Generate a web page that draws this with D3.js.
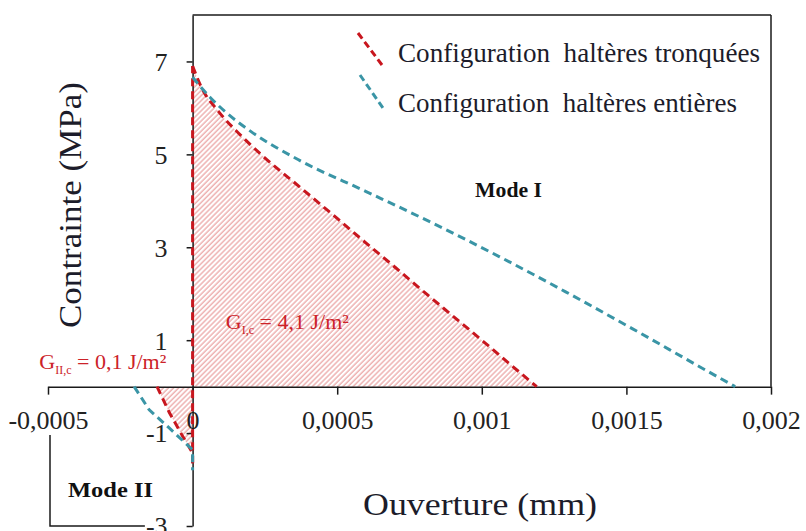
<!DOCTYPE html>
<html><head><meta charset="utf-8">
<script src="https://cdn.jsdelivr.net/npm/d3@7/dist/d3.min.js"></script>
<style>
html,body{margin:0;padding:0;background:#fff;}
svg{display:block;}
text{font-family:"Liberation Serif","Times New Roman",serif;}
</style></head>
<body>
<svg id="chart" width="806" height="531"></svg>
<script>
// ---- data ----
const xTickValues = [-0.0005, 0, 0.0005, 0.001, 0.0015, 0.002];
const xTickLabels = ["-0,0005", "0", "0,0005", "0,001", "0,0015", "0,002"];
const yTickValues = [-3, -1, 1, 3, 5, 7];
const yTickLabels = ["-3", "-1", "1", "3", "5", "7"];
const seriesNames = ["Configuration  haltères tronquées", "Configuration  haltères entières"];
const seriesColors = ["#c8161e", "#3a95a6"];
// [ouverture (mm), contrainte (MPa)]
const tronqueesModeII = [[-0.000123, 0], [-0.000081, -0.55], [-0.000036, -1.05], [0, -1.43], [0, -1.65]];
const tronqueesVertical = [[0, -1.65], [0, 6.9]];
const tronqueesModeI = [[0, 6.9], [0.00003, 6.45], [0.00009, 5.92], [0.00016, 5.45], [0.00024, 4.98],
  [0.00037, 4.3], [0.0005, 3.62], [0.0006, 3.09], [0.0007, 2.57], [0.0008, 2.04], [0.0009, 1.52],
  [0.001, 1.0], [0.0011, 0.47], [0.00119, 0]];
const entieresModeII = [[-0.000202, 0], [-0.00015, -0.5], [-0.000081, -0.89], [0, -1.36], [0, -1.8]];
const entieresModeI = [[0, 6.66], [0.00006, 6.23], [0.00012, 5.88], [0.0002, 5.5], [0.00037, 4.87],
  [0.0006, 4.2], [0.00083, 3.52], [0.00106, 2.8], [0.00129, 2.04], [0.00152, 1.25], [0.00175, 0.44], [0.001876, 0]];
const annotGIc = {pre: "G", sub: "I,c", post: " = 4,1 J/m²", x: 0.000115, y: 1.25};
const annotGIIc = {pre: "G", sub: "II,c", post: " = 0,1 J/m²", x: -0.00053, y: 0.38};

// ---- scales ----
const svg = d3.select("#chart");
const x = d3.scaleLinear().domain([-0.0005, 0.002]).range([48, 771]);
const y = d3.scaleLinear().domain([-3, 8]).range([526, 15]);

// ---- hatch pattern ----
const defs = svg.append("defs");
const pat = defs.append("pattern").attr("id", "hatch").attr("patternUnits", "userSpaceOnUse")
  .attr("width", 3.6).attr("height", 10).attr("patternTransform", "rotate(45)");
pat.append("line").attr("x1", 1).attr("x2", 1).attr("y1", 0).attr("y2", 10)
  .attr("stroke", "#e58a8a").attr("stroke-width", 1);

const area = d3.area().x(d => x(d[0])).y0(y(0)).y1(d => y(d[1])).curve(d3.curveMonotoneX);
svg.append("path").datum(tronqueesModeI).attr("d", area).attr("fill", "url(#hatch)");
svg.append("path").datum(tronqueesModeII.slice(0, 4)).attr("d", area).attr("fill", "url(#hatch)");

// ---- frame ----
const ax = "#1a1a1a";
const frame = svg.append("g").attr("stroke", ax).attr("stroke-width", 1.5).attr("fill", "none");
frame.append("line").attr("x1", x(0)).attr("x2", x(0.002)).attr("y1", y(8)).attr("y2", y(8));
frame.append("line").attr("x1", x(0.002)).attr("x2", x(0.002)).attr("y1", y(8)).attr("y2", y(0));
// Mode II box
frame.append("path").attr("d", `M${x(-0.0005) + 2},${y(-1.04)}V${y(-3)}H${x(-0.000165)}`);

// ---- axes ----
const xAxis = d3.axisBottom(x).tickValues(xTickValues).tickSize(8).tickSizeOuter(0)
  .tickFormat((d, i) => xTickLabels[i]);
const gx = svg.append("g").attr("transform", `translate(0,${y(0)})`).call(xAxis);
gx.select(".domain").attr("stroke", ax).attr("stroke-width", 1.5);
gx.selectAll(".tick line").attr("stroke", ax).attr("stroke-width", 1.5);
gx.selectAll(".tick text").attr("y", 42).attr("dy", null).attr("fill", "#222")
  .style("font-family", "'Liberation Serif',serif").style("font-size", "26px");

const yAxis = d3.axisLeft(y).tickValues(yTickValues).tickSize(6).tickSizeOuter(0).tickPadding(19)
  .tickFormat((d, i) => yTickLabels[i]);
const gy = svg.append("g").attr("transform", `translate(${x(0)},0)`).call(yAxis);
gy.select(".domain").attr("stroke", ax).attr("stroke-width", 1.5);
gy.selectAll(".tick line").attr("stroke", ax).attr("stroke-width", 1.5);
gy.selectAll(".tick text").attr("fill", "#222").attr("dy", "0.34em")
  .style("font-family", "'Liberation Serif',serif").style("font-size", "26px");

// ---- curves ----
const line = d3.line().x(d => x(d[0])).y(d => y(d[1]));
const smooth = d3.line().x(d => x(d[0])).y(d => y(d[1])).curve(d3.curveMonotoneX);
const curves = [[tronqueesModeII, 0, line], [tronqueesVertical, 0, line], [tronqueesModeI, 0, smooth],
  [entieresModeII, 1, line], [entieresModeI, 1, smooth]];
curves.forEach(([data, i, gen]) => {
  svg.append("path").datum(data).attr("d", gen).attr("fill", "none")
    .attr("stroke", seriesColors[i]).attr("stroke-width", 3).attr("stroke-dasharray", "8,5");
});

// ---- legend ----
const leg = [{x1: 358, y1: 33, x2: 382, y2: 65, ty: 62, tl: 362}, {x1: 360, y1: 75, x2: 383, y2: 108, ty: 112, tl: 339}];
leg.forEach((l, i) => {
  svg.append("line").attr("x1", l.x1).attr("y1", l.y1).attr("x2", l.x2).attr("y2", l.y2)
    .attr("stroke", seriesColors[i]).attr("stroke-width", 3).attr("stroke-dasharray", "7,4");
  svg.append("text").attr("x", 398).attr("y", l.ty).text(seriesNames[i])
    .style("white-space", "pre").style("font-size", "27px").attr("fill", "#1c1c2a")
    .attr("textLength", l.tl).attr("lengthAdjust", "spacingAndGlyphs");
});

// ---- titles ----
svg.append("text").attr("transform", "translate(81,205) rotate(-90)").attr("text-anchor", "middle")
  .text("Contrainte (MPa)").style("font-size", "32px").attr("fill", "#1c1c2a")
  .attr("textLength", 246).attr("lengthAdjust", "spacingAndGlyphs");
svg.append("text").attr("x", 480).attr("y", 515).attr("text-anchor", "middle")
  .text("Ouverture (mm)").style("font-size", "32px").attr("fill", "#1c1c2a")
  .attr("textLength", 234).attr("lengthAdjust", "spacingAndGlyphs");

svg.append("text").attr("x", 475).attr("y", 197).text("Mode I").style("font-size", "22px")
  .style("font-weight", "bold").attr("fill", "#111").attr("textLength", 67).attr("lengthAdjust", "spacingAndGlyphs");
svg.append("text").attr("x", 68).attr("y", 497).text("Mode II").style("font-size", "22px")
  .style("font-weight", "bold").attr("fill", "#111").attr("textLength", 85).attr("lengthAdjust", "spacingAndGlyphs");

// ---- energy annotations ----
[annotGIc, annotGIIc].forEach(a => {
  const t = svg.append("text").attr("x", x(a.x)).attr("y", y(a.y)).attr("fill", "#cc2229").style("font-size", "22px");
  t.append("tspan").text(a.pre);
  t.append("tspan").text(a.sub).attr("dy", 5).style("font-size", "12px");
  t.append("tspan").text(a.post).attr("dy", -5);
});
</script>
</body></html>
